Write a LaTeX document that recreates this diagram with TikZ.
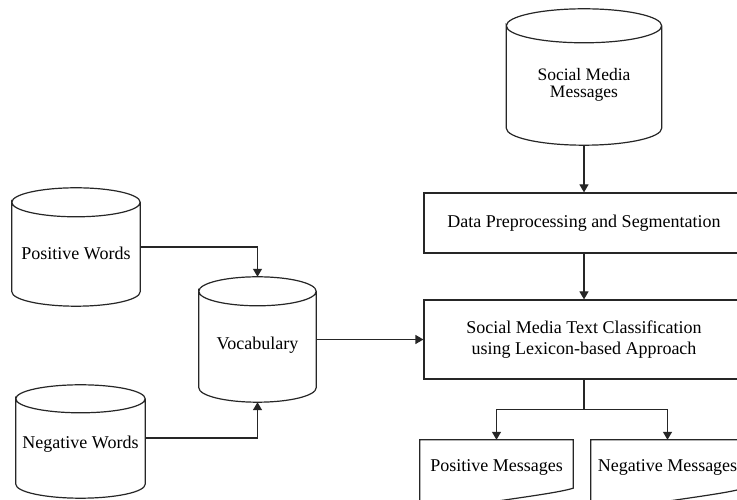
\documentclass[tikz,border=0pt]{standalone}
\usepackage{fontspec}
\setmainfont{Liberation Serif}
\usetikzlibrary{arrows.meta,calc}
\newcommand\drawcyl[2]{%
  \draw[plain] let \p1=(#1.north west), \p2=(#1.south east), \n1={(\x2-\x1)/2} in
    (\x1,\y1-#2) arc[start angle=180,end angle=-180,x radius=\n1,y radius=#2]
    -- (\x1,\y2+#2) arc[start angle=180,end angle=360,x radius=\n1,y radius=#2]
    -- (\x2,\y1-#2);}
\newcommand\drawdoc[1]{%
  \draw[plain] (#1.north west) -- (#1.north east) -- ($(#1.south east)+(0,6)$)
    .. controls ($(#1.south east)+(-13,2)$) and ($(#1.south east)+(-43,-2)$) .. ($(#1.south)+(0,-7)$)
    .. controls ($(#1.south)+(-26.5,-12)$) and ($(#1.south)+(-51.5,-16)$) .. ($(#1.south west)+(0,-12)$)
    -- cycle;}
\tikzset{
  x=1pt, y=1pt,
  txt/.style={font=\fontsize{18}{21}\selectfont, align=center},
  plain/.style={line width=1.2pt, draw=black!85},
  link/.style={plain, -{Triangle[length=8pt,width=9pt]}},
  cylnode/.style={inner sep=0pt},
  boxnode/.style={plain, draw, inner sep=0pt, txt},
  docnode/.style={inner sep=0pt, txt},
}
\begin{document}
\begin{tikzpicture}
\clip (0,0) rectangle (737,500);
\fill[white] (0,0) rectangle (737,500);
% cylinders
\node[cylnode, minimum width=155pt, minimum height=136pt,
  label={[txt, font=\fontsize{17.5}{17.5}\selectfont, yshift=-8pt]center:Social Media\\Messages}] (smm) at (584,423) {};
\node[cylnode, minimum width=128pt, minimum height=118pt,
  label={[txt, yshift=-6pt]center:Positive Words}] (pw) at (76,253) {};
\node[cylnode, minimum width=117pt, minimum height=125pt,
  label={[txt, yshift=-5.5pt]center:Vocabulary}] (voc) at (257.5,160.5) {};
\node[cylnode, minimum width=129pt, minimum height=113pt,
  label={[txt, yshift=-2.5pt]center:Negative Words}] (nw) at (80.5,58.5) {};
\drawcyl{smm}{17pt}
\drawcyl{pw}{14.5pt}
\drawcyl{voc}{14.5pt}
\drawcyl{nw}{14pt}
% boxes
\node[boxnode, minimum width=320pt, minimum height=60pt] (dp) at (584,277) {Data Preprocessing and Segmentation};
\node[boxnode, minimum width=320pt, minimum height=79pt] (cls) at (584,160.5) {Social Media Text Classification\\using Lexicon-based Approach};
% documents
\node[docnode, minimum width=153pt, minimum height=54pt] (pm) at (496.5,33) {};
\node[docnode, minimum width=153pt, minimum height=54pt] (nm) at (667.5,33) {};
\drawdoc{pm}
\drawdoc{nm}
\node[txt, inner sep=0pt] at (pm.center) {Positive Messages};
\node[txt, inner sep=0pt] at (nm.center) {Negative Messages};
% connectors
\draw[link] (smm.south) -- (dp.north);
\draw[link] (dp.south) -- (cls.north);
\draw[link] (pw.east) -| (voc.north);
\draw[link] ([yshift=3.5pt]nw.east) -| (voc.south);
\draw[link] (voc.east) -- (cls.west);
\draw[plain] (cls.south) -- ++(0,-30) coordinate (split);
\draw[link] (split) -| (pm.north);
\draw[link] (split) -| (nm.north);
\end{tikzpicture}
\end{document}
